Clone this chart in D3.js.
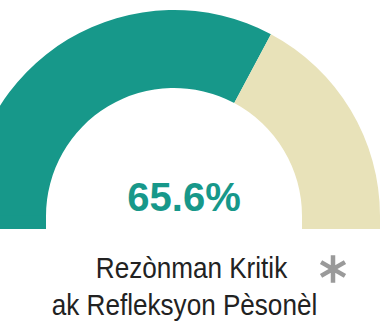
<!DOCTYPE html>
<html>
<head>
<meta charset="utf-8">
<script src="https://cdn.jsdelivr.net/npm/d3@7"></script>
<style>
  html, body { margin: 0; padding: 0; background: #fff; }
  svg { display: block; }
</style>
</head>
<body>
<svg id="chart" width="385" height="322"></svg>
<script>
// Gauge data
const gaugeLabels = ["Rezònman Kritik", "ak Refleksyon Pèsonèl"];
const gaugeValues = [65.6];
const gaugeMax = [100];
const valueLabels = ["65.6%"];

const W = 385, H = 322;
const cx = 174, cy = 216;
const rInner = 128, rOuter = 206;
const stem = 13; // straight extension below the arc ends

const teal = "#17988a";
const beige = "#e8e2b9";

const svg = d3.select("#chart");

const angle = d3.scaleLinear()
  .domain([0, gaugeMax[0]])
  .range([-Math.PI / 2, Math.PI / 2]);

const arc = d3.arc()
  .innerRadius(rInner)
  .outerRadius(rOuter);

const g = svg.append("g").attr("transform", `translate(${cx},${cy})`);

const segments = [
  { start: 0, end: gaugeValues[0], color: teal },
  { start: gaugeValues[0], end: gaugeMax[0], color: beige }
];

g.selectAll("path.seg")
  .data(segments)
  .join("path")
  .attr("class", "seg")
  .attr("fill", d => d.color)
  .attr("d", d => arc({ startAngle: angle(d.start), endAngle: angle(d.end) }));

// Straight feet under each end of the ring
const feet = [
  { x0: -rOuter, x1: -rInner, color: teal },
  { x0: rInner, x1: rOuter, color: beige }
];
g.selectAll("rect.foot")
  .data(feet)
  .join("rect")
  .attr("class", "foot")
  .attr("x", d => d.x0)
  .attr("y", -0.5)
  .attr("width", d => d.x1 - d.x0)
  .attr("height", stem + 0.5)
  .attr("fill", d => d.color);

// Central value
svg.append("text")
  .attr("x", 184)
  .attr("y", 211)
  .attr("text-anchor", "middle")
  .attr("font-family", "Liberation Sans, Arial, sans-serif")
  .attr("font-weight", "bold")
  .attr("font-size", 40)
  .attr("fill", teal)
  .text(valueLabels[0]);

// Caption (slightly condensed)
const sx = 0.87;
const caption = svg.append("text")
  .attr("transform", `scale(${sx},1)`)
  .attr("text-anchor", "middle")
  .attr("font-family", "Liberation Sans, Arial, sans-serif")
  .attr("font-size", 30)
  .attr("fill", "#222");
caption.selectAll("tspan")
  .data(gaugeLabels)
  .join("tspan")
  .attr("x", (d, i) => (i === 0 ? 191.5 : 184.5) / sx)
  .attr("y", (d, i) => i === 0 ? 278 : 315)
  .text(d => d);

// Asterisk marker
svg.append("path")
  .attr("transform", "translate(333,269)")
  .attr("d", d3.symbol(d3.symbolAsterisk, 540)())
  .attr("fill", "none")
  .attr("stroke", "#9a9a9a")
  .attr("stroke-width", 4.5);
</script>
</body>
</html>
